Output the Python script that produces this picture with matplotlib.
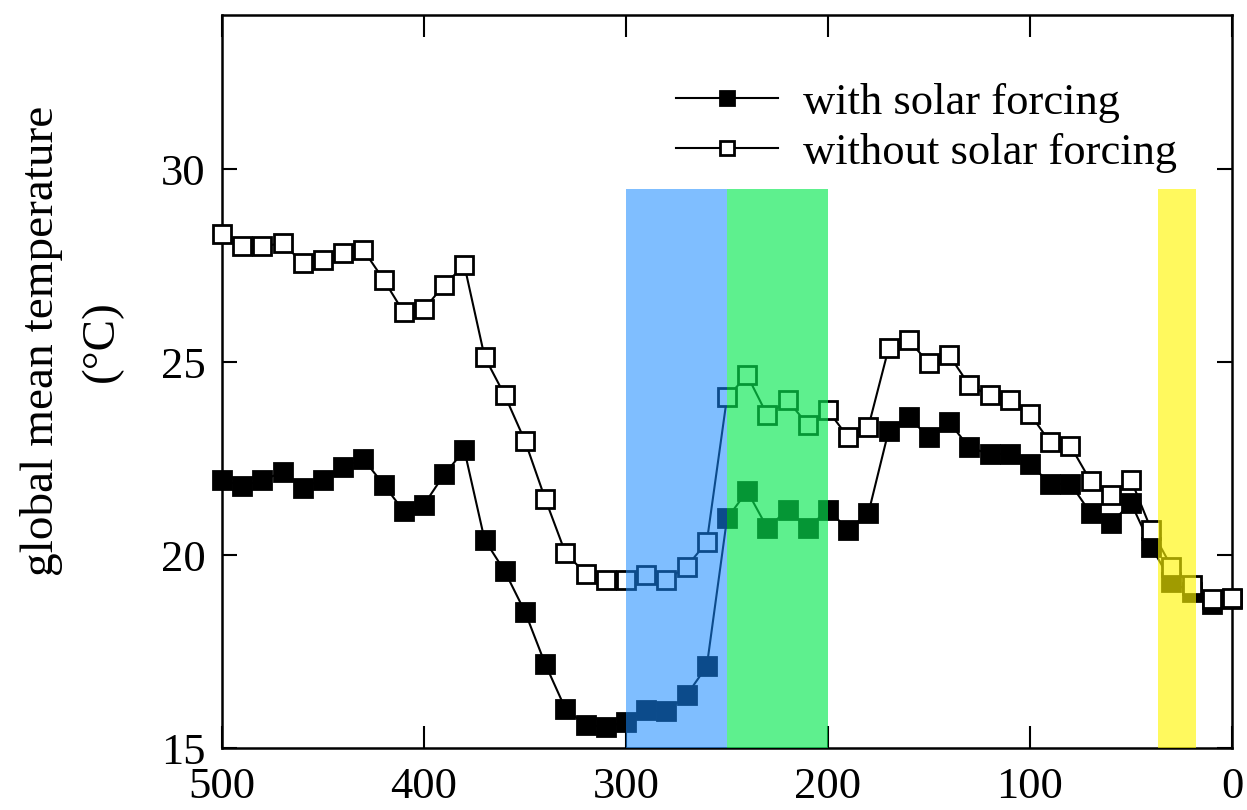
import matplotlib
matplotlib.use('Agg')
import matplotlib.pyplot as plt

# ── Data ────────────────────────────────────────────────────────────────────
age = [500, 490, 480, 470, 460, 450, 440, 430, 420, 410,
       400, 390, 380, 370, 360, 350, 340, 330, 320, 310,
       300, 290, 280, 270, 260, 250, 240, 230, 220, 210,
       200, 190, 180, 170, 160, 150, 140, 130, 120, 110,
       100, 90, 80, 70, 60, 50, 40, 30, 20, 10, 0]

with_solar = [21.95, 21.79, 21.94, 22.15, 21.74, 21.96, 22.28, 22.49, 21.83, 21.14,
              21.31, 22.09, 22.72, 20.40, 19.58, 18.53, 17.18, 16.02, 15.59, 15.55,
              15.67, 15.99, 15.95, 16.37, 17.12, 20.95, 21.66, 20.70, 21.18, 20.70,
              21.18, 20.66, 21.09, 23.22, 23.57, 23.05, 23.44, 22.79, 22.62, 22.62,
              22.36, 21.85, 21.85, 21.09, 20.83, 21.35, 20.22, 19.30, 19.04, 18.74, 18.85]

without_solar = [28.32, 28.01, 28.01, 28.08, 27.58, 27.66, 27.84, 27.91, 27.14, 26.29,
                 26.37, 27.01, 27.51, 25.14, 24.14, 22.96, 21.46, 20.06, 19.52, 19.36,
                 19.35, 19.49, 19.36, 19.70, 20.34, 24.09, 24.66, 23.62, 24.01, 23.38,
                 23.75, 23.05, 23.33, 25.36, 25.57, 24.97, 25.18, 24.40, 24.14, 24.01,
                 23.66, 22.92, 22.83, 21.92, 21.57, 21.95, 20.66, 19.70, 19.22, 18.87, 18.89]

# shaded intervals: (start, end, top)
spans = [(300, 250, 29.5), (250, 200, 29.5), (36.5, 18, 29.5)]
span_colors = [((0.09, 0.54, 1.0), 0.55),
               ((0.03, 0.91, 0.32), 0.65),
               ((1.0, 0.97, 0.0), 0.63)]

plt.rcParams['font.family'] = ['Liberation Serif', 'DejaVu Serif']

fig = plt.figure(figsize=(12.47, 8.10), dpi=100)
ax = fig.add_axes([0.178, 0.0765, 0.81, 0.905])

ax.plot(age, with_solar, '-', color='black', lw=1.5, marker='s', ms=13,
        mfc='black', mec='black', mew=2, label='with solar forcing',
        zorder=3, clip_on=False)
ax.plot(age, without_solar, '-', color='black', lw=1.5, marker='s', ms=13,
        mfc='white', mec='black', mew=2, label='without solar forcing',
        zorder=4, clip_on=False)

for (x0, x1, top), (c, a) in zip(spans, span_colors):
    ax.fill_between([x1, x0], 15, top, color=c, alpha=a, lw=0, zorder=5)

ax.set_xlim(500, 0)
ax.set_ylim(15, 34)
ax.set_xticks([500, 400, 300, 200, 100, 0])
ax.set_yticks([15, 20, 25, 30])

ax.tick_params(axis='x', direction='in', length=16, width=1.5, top=True,
               labelsize=32, pad=14)
ax.tick_params(axis='y', direction='in', length=11, width=1.5, right=True,
               labelsize=32, pad=12)
for s in ax.spines.values():
    s.set_linewidth(1.8)

ax.set_ylabel('global mean temperature\n(°C)', fontsize=34, linespacing=1.55)
ax.yaxis.set_label_coords(-0.098, 0.555)

ax.legend(loc='upper right', bbox_to_anchor=(0.985, 0.962), frameon=False,
          fontsize=32, markerscale=0.8, handlelength=2.3, handletextpad=0.55,
          labelspacing=0.22)

fig.savefig('out.png', dpi=100)
